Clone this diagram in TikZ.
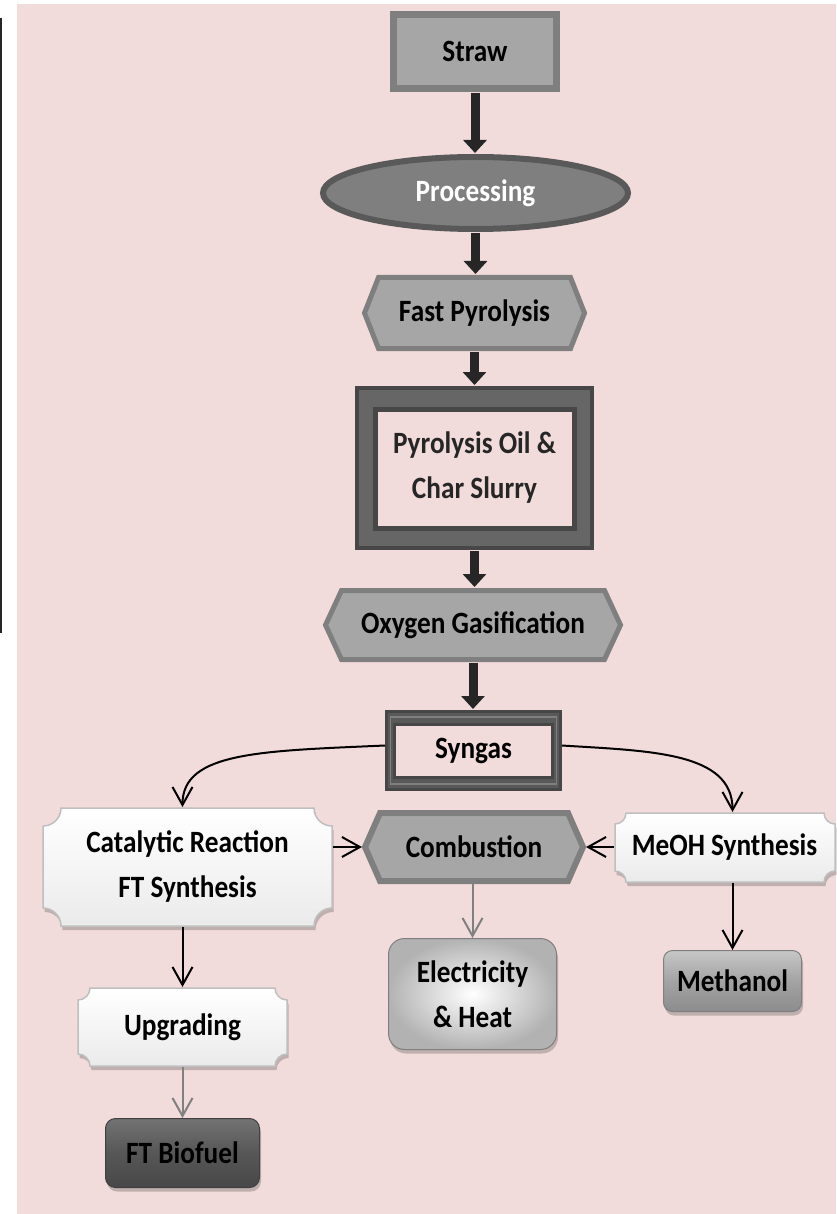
\documentclass[tikz,border=0pt]{standalone}
\usepackage{fontspec}
\setmainfont{Carlito}[FakeStretch=0.88]
\usetikzlibrary{arrows.meta,shapes.geometric,shadows}
\definecolor{bgpink}{HTML}{F2DCDB}
\definecolor{arrowdark}{HTML}{262626}
\definecolor{gA}{HTML}{A6A6A6}
\definecolor{gB}{HTML}{7F7F7F}
\definecolor{gC}{HTML}{595959}
\definecolor{gD}{HTML}{666666}
\definecolor{gE}{HTML}{474747}
\definecolor{plaqueline}{HTML}{BFBFBF}
\newcommand\plaquepath[5]{(#1,#2+#5) .. controls (#1+0.552*#5,#2+#5) and (#1+#5,#2+0.552*#5) .. (#1+#5,#2) -- (#3-#5,#2) .. controls (#3-#5,#2+0.552*#5) and (#3-0.552*#5,#2+#5) .. (#3,#2+#5) -- (#3,#4-#5) .. controls (#3-0.552*#5,#4-#5) and (#3-#5,#4-0.552*#5) .. (#3-#5,#4) -- (#1+#5,#4) .. controls (#1+#5,#4-0.552*#5) and (#1+0.552*#5,#4-#5) .. (#1,#4-#5) -- cycle}
\newcommand\hexpath[5]{(#1,{(#2+#4)/2}) -- (#1+#5,#2) -- (#3-#5,#2) -- (#3,{(#2+#4)/2}) -- (#3-#5,#4) -- (#1+#5,#4) -- cycle}
\tikzset{
  lab/.style={inner sep=0pt, outer sep=0pt, align=center},
  twoline/.style={font=\fontsize{31}{45}\selectfont\bfseries},
  plaque/.style={draw=plaqueline, line width=1.5pt, top color=white, bottom color=black!8,
    drop shadow={shadow xshift=1.5pt, shadow yshift=-4pt, opacity=0.3, fill=black!70}},
  bigarrow/.style={line width=9pt, draw=arrowdark, shorten <=1pt, shorten >=1pt,
    -{Triangle[width=23pt,length=13pt]}},
  thinarrow/.style={line width=2pt, draw=black,
    -{Straight Barb[length=18pt,width=20pt,line width=2pt]}},
  grayarrow/.style={thinarrow, draw=black!50},
  glossy/.style={rounded corners=#1, inner sep=0pt, align=center,
    drop shadow={shadow xshift=1.5pt, shadow yshift=-4pt, opacity=0.3, fill=black!70}},
}
\begin{document}
\begin{tikzpicture}[x=1pt, y=-1pt, font=\fontsize{31}{36}\selectfont\bfseries]
\useasboundingbox (0,0) rectangle (836,1214);
\fill[white] (0,0) rectangle (836,1214);
\fill[bgpink] (17,4) rectangle (836,1214);
\draw[arrowdark, line width=2pt] (1,18) -- (1,633);

% Straw
\node[rectangle, fill=gA, draw=gB, line width=7pt, minimum width=163pt, minimum height=74pt,
  inner sep=0pt, outer sep=auto] (straw) at (475,51.5) {Straw};

% Processing
\node[ellipse, fill=gB, draw=gC, line width=6pt, minimum width=305pt, minimum height=72pt,
  text=white, inner sep=0pt, outer sep=auto] (proc) at (475.5,193) {Processing};

% Fast Pyrolysis
\path[fill=gA, draw=gB, line width=5pt] \hexpath{364.5}{277.5}{584.5}{348.5}{14};
\node[lab, minimum width=225pt, minimum height=76pt] (fastp) at (474.5,313) {Fast Pyrolysis};

% Pyrolysis oil & char slurry
\path[fill=gD, draw=gE, line width=4pt] (357,388) rectangle (592,548);
\path[fill=bgpink, draw=gE, line width=5pt] (375.5,409) rectangle (574.5,528);
\node[lab, twoline, text=arrowdark, minimum width=239pt, minimum height=164pt] (pyro) at (474.5,468) {Pyrolysis Oil \&\\Char Slurry};

% Oxygen gasification
\path[fill=gA, draw=gB, line width=5pt] \hexpath{325.5}{590.5}{620.5}{659.5}{16};
\node[lab, minimum width=300pt, minimum height=74pt] (oxy) at (473,625) {Oxygen Gasification};

% Syngas
\path[fill=gC, draw=gE, line width=3pt] (386.5,711.5) rectangle (560.5,789.5);
\draw[gB, line width=1.5pt] (390.5,717) rectangle (556.5,784);
\path[fill=bgpink, draw=gE, line width=3pt] (394.5,724) rectangle (552.5,777.5);
\node[lab, minimum width=177pt, minimum height=81pt] (syngas) at (473.5,750.5) {Syngas};

% Catalytic reaction
\path[plaque] \plaquepath{43}{808}{332}{926}{18};
\node[lab, twoline, minimum width=291pt, minimum height=120pt] (cat) at (187.5,867) {Catalytic Reaction\\FT Synthesis};

% Combustion
\path[fill=gA, draw=gB, line width=6pt] \hexpath{365}{813}{583}{881}{15};
\node[lab, minimum width=224pt, minimum height=74pt] (comb) at (474,847) {Combustion};

% MeOH synthesis
\path[plaque] \plaquepath{615}{813}{835}{882}{11};
\node[lab, minimum width=221pt, minimum height=71pt] (meoh) at (724.5,847.5) {MeOH Synthesis};

% Electricity & Heat
\node[glossy=16pt, twoline, draw=gB, line width=1pt, inner color=white, outer color=black!30,
  minimum width=168pt, minimum height=111pt] (elec) at (472.5,994) {Electricity\\\& Heat};

% Methanol
\node[glossy=9pt, draw=gB, line width=1pt, top color=black!22, bottom color=black!45, middle color=black!36,
  minimum width=138pt, minimum height=61pt] (methanol) at (732.5,981) {Methanol};

% Upgrading
\path[plaque] \plaquepath{78}{988}{287}{1066}{12};
\node[lab, minimum width=211pt, minimum height=80pt] (upg) at (182.5,1027) {Upgrading};

% FT Biofuel
\node[glossy=10pt, draw=black!75, line width=1pt, top color=black!55, bottom color=black!72, middle color=black!66,
  minimum width=154pt, minimum height=69pt] (ftb) at (182.5,1153) {FT Biofuel};

% Main thick arrows
\draw[bigarrow] (straw.south) -- (straw.south |- proc.north);
\draw[bigarrow] (proc.south) -- (proc.south |- fastp.north);
\draw[bigarrow] (fastp.south) -- (fastp.south |- pyro.north);
\draw[bigarrow] (pyro.south) -- (pyro.south |- oxy.north);
\draw[bigarrow] (oxy.south) -- (oxy.south |- syngas.north);

% Thin arrows
\draw[thinarrow] ([yshift=5pt]syngas.west) .. controls (260,751) and (182.5,752) .. (cat.north -| upg.north);
\draw[thinarrow] ([yshift=5pt]syngas.east) .. controls (650,751) and (732.5,752) .. (meoh.north -| methanol.north);
\draw[thinarrow] (cat.east |- comb.west) -- (comb.west);
\draw[thinarrow] (meoh.west |- comb.east) -- (comb.east);
\draw[thinarrow] (cat.south -| upg.north) -- (upg.north);
\draw[thinarrow] (meoh.south -| methanol.north) -- (methanol.north);
\draw[grayarrow] (comb.south -| elec.north) -- (elec.north);
\draw[grayarrow] (upg.south) -- (upg.south |- ftb.north);
\end{tikzpicture}
\end{document}
